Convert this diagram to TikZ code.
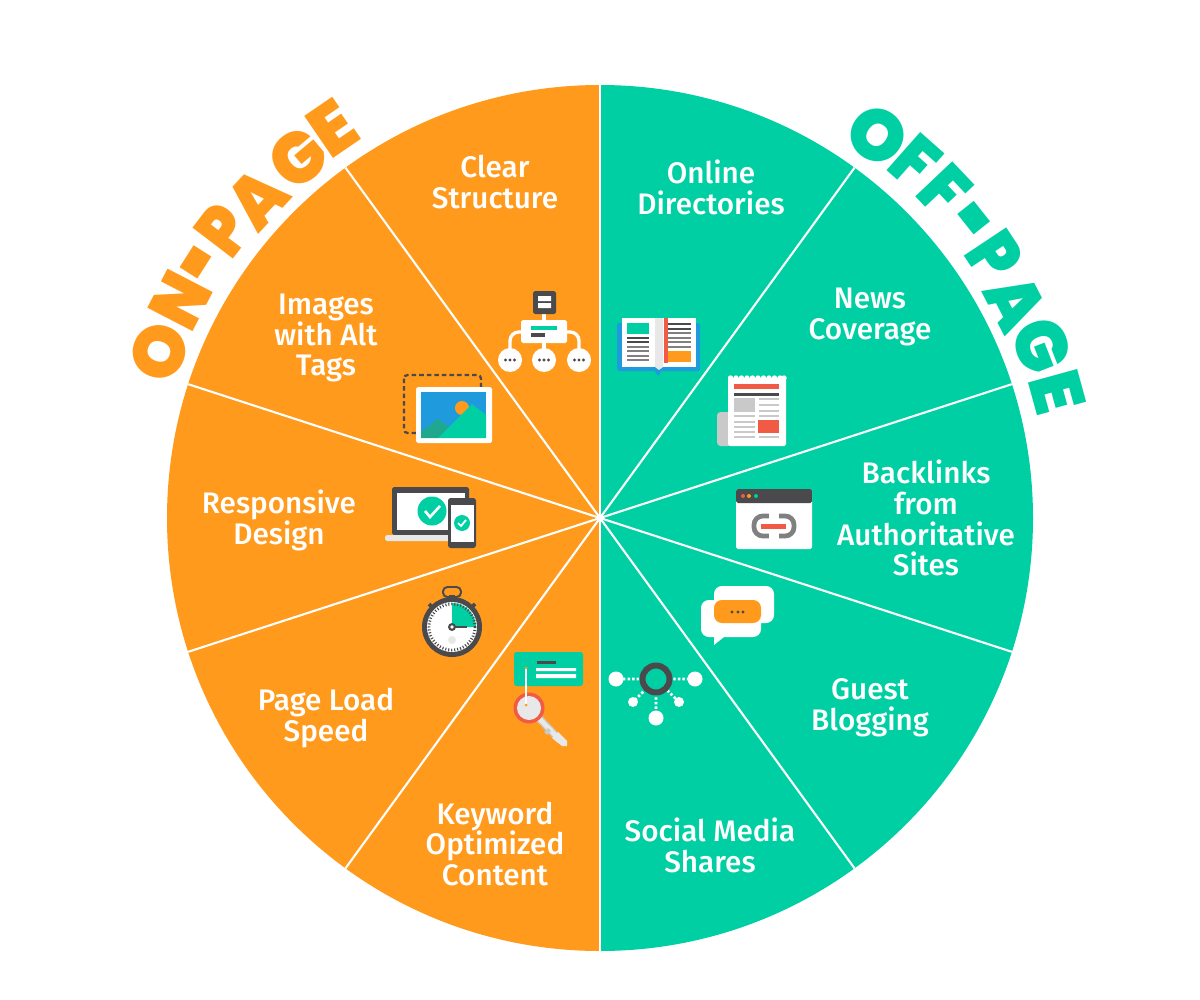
\documentclass[tikz,border=0pt]{standalone}
\usepackage{fontspec}
\usepackage{tikz}
\setmainfont{Fira Sans}[UprightFont=* Medium]
\newfontfamily\titlefont{Poppins}[UprightFont=* Black]
\definecolor{onpage}{HTML}{FF9A1C}
\definecolor{offpage}{HTML}{00CFA4}
\definecolor{dark}{HTML}{4A4A4D}
\definecolor{sky}{HTML}{1F9BDD}
\definecolor{tomato}{HTML}{F15B45}
\definecolor{soft}{HTML}{C9C9C9}
\definecolor{pale}{HTML}{E8E8E8}
\definecolor{hill}{HTML}{1FA88E}
\tikzset{
  label/.style={text=white,align=center,inner sep=0pt,font=\fontsize{16.9}{17.6}\selectfont},
  letter/.style={inner sep=0pt,transform shape,font=\titlefont\fontsize{41}{41}\selectfont},
  spoke/.style={draw=white,line width=1.2pt},
  card/.style={fill=white,rounded corners=1pt},
  pipe/.style={draw=white,line width=1.9pt},
  grayline/.style={draw=soft,line width=1.3pt},
  darkline/.style={draw=dark,line width=1.3pt},
  dotline/.style={draw=white,line width=1.5pt,dash pattern=on 1.4pt off 1.2pt},
}
\begin{document}
\begin{tikzpicture}[x=0.02cm,y=-0.02cm]
      \useasboundingbox (0,0) rectangle (1200,1000);
      \coordinate (cen) at (600,518);
      \begin{scope}
        \fill[onpage] (600,85) arc (-90:-270:433) -- cycle;
        \fill[offpage] (600,85) arc (-90:90:433) -- cycle;
        \foreach \a in {90,54,18,-18,-54,-90,-126,-162,162,126}
          \draw[spoke] (cen) -- ++(-\a:433);
      \end{scope}
      \begin{scope}[shift={(cen)},every node/.style={letter}]
        \foreach \ch/\a/\r/\nm/\sx/\sy in {O/159.4/471/a/1/1,N/152.6/472/b/0.9/1,-/147.5/464/c/0.78/1.6,P/142.6/474/d/0.86/1,A/137/468/e/0.92/1,G/130/470/f/0.96/1,E/124.4/473/g/1/1}
          \node[text=onpage,rotate=\a-90,xscale=\sx,yscale=\sy] (on\nm) at (-\a:\r) {\ch};
        \foreach \ch/\a/\r/\nm/\sx/\sy in {O/54.1/473/a/1/1,F/48.5/476/b/0.9/1,F/43.5/476/c/0.9/1,-/38.5/465/d/0.78/1.6,P/33.6/474/e/0.86/1,A/27.4/468/f/0.92/1,G/21.3/474/g/0.96/1,E/15.4/474/h/1/1}
          \node[text=offpage,rotate=\a-90,xscale=\sx,yscale=\sy] (off\nm) at (-\a:\r) {\ch};
      \end{scope}
      \begin{scope}[every node/.style={label}]
        \node (clear) at (495,182) {Clear\\Structure};
        \node (images) at (326,338) {Images\\with Alt\\Tags};
        \node (responsive) at (279,520) {Responsive\\Design};
        \node (speed) at (326,718) {Page Load\\Speed};
        \node (keyword) at (495,844) {Keyword\\Optimized\\Content};
        \node (online) at (711,187) {Online\\Directories};
        \node (news) at (870,317) {News\\Coverage};
        \node (backlinks) at (926,518) {Backlinks\\from\\Authoritative\\Sites};
        \node (guest) at (870,708) {Guest\\Blogging};
        \node (social) at (710,845) {Social Media\\Shares};
      \end{scope}
      % clear structure
      \begin{scope}
        \draw[pipe] (544,314) -- (544,350);
        \draw[pipe,rounded corners=5pt] (525,332) -- (510,332) -- (510,350);
        \draw[pipe,rounded corners=5pt] (563,332) -- (579,332) -- (579,350);
        \fill[dark,rounded corners=1pt] (533,291) rectangle (556,314);
        \fill[white] (538,296) rectangle (551,301) (538,303) rectangle (551,308);
        \fill[card] (521,320) rectangle (567,343);
        \fill[offpage] (531,326) rectangle (557,330);
        \fill[dark] (531,333) rectangle (545,337);
        \foreach \x in {510,544,579} {
          \fill[white] (\x,360) circle (12);
          \foreach \d in {-4.5,0,4.5}
            \fill[dark] (\x+\d,360) circle (1.7);
        }
      \end{scope}
      % images
      \begin{scope}
        \draw[dark,line width=1.3pt,dash pattern=on 2.6pt off 1.7pt,rounded corners=2pt] (404,375) rectangle (481,433);
        \fill[card] (416,387) rectangle (492,443);
        \fill[sky] (421,392) rectangle (486,438);
        \fill[onpage] (462,408) circle (7);
        \fill[hill] (421,438) -- (421,432) -- (438,419) -- (452,430) -- (438,438) -- cycle;
        \fill[offpage] (438,438) -- (472,404) -- (486,415) -- (486,438) -- cycle;
      \end{scope}
      % responsive
      \begin{scope}
        \fill[dark,rounded corners=1pt] (392,487) rectangle (469,535);
        \fill[white] (397,493) rectangle (465,530);
        \fill[pale,rounded corners=1pt] (385,535) rectangle (450,541);
        \fill[offpage] (432,511) circle (14.5);
        \draw[white,line width=1.5pt] (425,511) -- (430,517) -- (440,506);
        \fill[dark,rounded corners=1.5pt] (448,498) rectangle (476,548);
        \fill[white] (451,505) rectangle (474,542);
        \fill[offpage] (462,523) circle (8);
        \draw[white,line width=1pt] (458,523) -- (461,526) -- (466,520);
      \end{scope}
      % page load speed
      \begin{scope}
        \draw[dark,line width=1.1pt,rounded corners=2.5pt] (443,587) rectangle (461,597);
        \draw[dark,line width=2.2pt] (429,604) -- (433,608) (475,604) -- (471,608);
        \fill[dark] (449,595) rectangle (455,601);
        \fill[dark] (452,627) circle (30);
        \fill[white] (452,627) circle (25);
        \fill[offpage] (452,627) -- (452,603) arc (-90:0:24) -- cycle;
        \draw[dark,line width=1.6pt,dash pattern=on 0.6pt off 1.1pt] (452,627) circle (23);
        \fill[pale] (452,640) circle (4);
        \draw[dark,line width=1.2pt] (452,627) -- (467,627);
        \fill[dark] (452,627) circle (4);
        \fill[white] (452,627) circle (1.8);
      \end{scope}
      % keyword
      \begin{scope}
        \fill[offpage,rounded corners=1.5pt] (514,652) rectangle (583,686);
        \fill[dark] (537,661) rectangle (556,664);
        \fill[white] (536,668) rectangle (576,671) (536,674) rectangle (576,678);
        \draw[soft,line width=4.2pt] (529,708) -- (560,740);
        \draw[pale,line width=2.6pt] (529,708) -- (560,740);
        \fill[pale] (552,738) -- (558,732) -- (567,741) -- (567,746) -- (562,746) -- cycle;
        \fill[soft] (544,732) -- (548,728) -- (551,731) -- (547,735) -- cycle;
        \fill[tomato] (529,708) circle (15.5);
        \fill[pale] (529,708) circle (12);
        \draw[white,line width=0.8pt] (526,668) -- (526,705);
        \fill[onpage] (526,668) circle (1.5) (526,705) circle (1.5);
      \end{scope}
      % online directories
      \begin{scope}
        \fill[sky,rounded corners=1pt] (617,323) rectangle (700,371);
        \fill[sky] (654,370) -- (662,370) -- (658,376) -- cycle;
        \fill[white] (622,318) rectangle (696,367);
        \fill[pale] (655,318) -- (663,318) -- (663,367) -- (659,370) -- (655,367) -- cycle;
        \fill[offpage] (627,323) rectangle (649,334);
        \foreach \y in {338,342}
          \draw[darkline] (627,\y) -- (649,\y);
        \foreach \y in {347,351,356,360}
          \draw[grayline,draw=gray] (627,\y) -- (649,\y);
        \fill[tomato] (664,318) rectangle (668,363);
        \foreach \y in {324,329}
          \draw[darkline] (668,\y) -- (691,\y);
        \foreach \y in {333,338,342,347}
          \draw[grayline,draw=gray] (668,\y) -- (691,\y);
        \fill[onpage] (668,351) rectangle (691,362);
      \end{scope}
      % news coverage
      \begin{scope}
        \fill[soft,rounded corners=2pt] (717,412) rectangle (732,446);
        \fill[white,rounded corners=1pt] (728,378) rectangle (786,446);
        \foreach \x in {730.5,736,741.5,747,752.5,758,763.5,769,774.5,780,784}
          \fill[white] (\x,378) circle (2.7);
        \fill[tomato] (734,384) rectangle (779,389);
        \fill[dark] (734,393) rectangle (779,396);
        \fill[soft] (734,398) rectangle (755,412);
        \foreach \y in {399,405,411,416,437}
          \draw[grayline] (759,\y) -- (779,\y);
        \foreach \y in {416,422,427,432,437}
          \draw[grayline] (734,\y) -- (755,\y);
        \fill[tomato] (758,420) rectangle (779,433);
      \end{scope}
      % backlinks
      \begin{scope}
        \fill[card] (736,489) rectangle (812,549);
        \fill[dark,rounded corners=1pt] (736,489) rectangle (812,503);
        \fill[tomato] (743,496) circle (2);
        \fill[onpage] (749,496) circle (2);
        \fill[offpage] (756,496) circle (2);
        \draw[gray,line width=2.7pt,rounded corners=5pt] (754,516) rectangle (794,536);
        \fill[white] (769,511) rectangle (779,541);
        \fill[tomato] (761,524) rectangle (786,529);
      \end{scope}
      % guest blogging
      \begin{scope}
        \fill[white,rounded corners=4.5pt] (714,586) rectangle (774,623);
        \fill[white,rounded corners=4.5pt] (701,600) rectangle (761,637);
        \fill[white] (714,630) -- (714,645) -- (724,637) -- cycle;
        \fill[onpage,rounded corners=4.5pt] (714,600) rectangle (761,623);
        \foreach \x in {732,738,743}
          \fill[dark] (\x,612) circle (1.6);
      \end{scope}
      % social media
      \begin{scope}
        \draw[dotline] (623,679) -- (689,679) (656,679) -- (656,712) (635,700) -- (656,679) -- (677,700);
        \fill[offpage] (656,679) circle (16);
        \draw[dark,line width=3.4pt] (656,679) circle (13.5);
        \fill[white] (616,679) circle (7.5) (695,679) circle (7.5) (656,718) circle (7.5);
        \fill[white] (633,702) circle (5) (679,702) circle (5);
      \end{scope}
\end{tikzpicture}
\end{document}
